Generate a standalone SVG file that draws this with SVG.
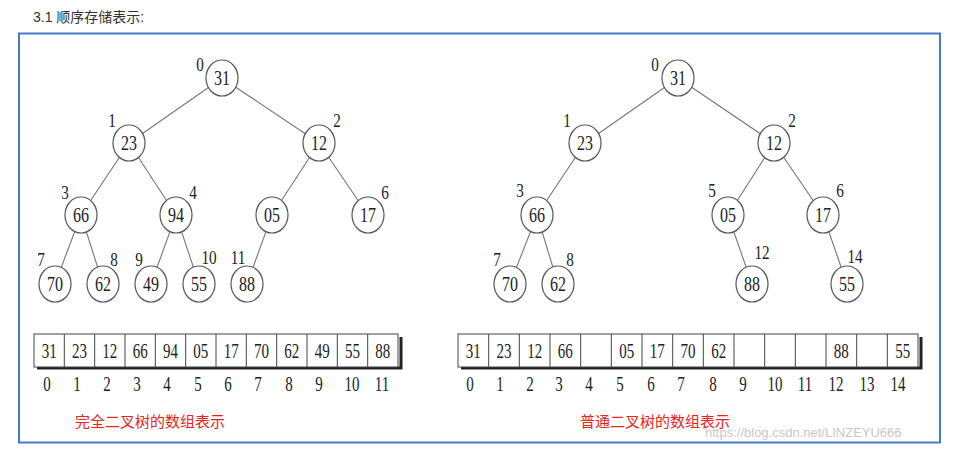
<svg xmlns="http://www.w3.org/2000/svg" width="962" height="453" viewBox="0 0 962 453">
<style>
.n{fill:#fff;stroke:#555;stroke-width:1.2}
.e{stroke:#777;stroke-width:1.1}
.t{font-family:"Liberation Serif",serif;font-size:20px;fill:#222;text-anchor:middle}
.l{font-family:"Liberation Serif",serif;font-size:19px;fill:#222;text-anchor:middle}
.c{fill:#fff;stroke:#444;stroke-width:1}
.cap{font-family:"Noto Sans CJK SC",sans-serif;font-size:15px;fill:#e8241c}
</style>
<rect width="962" height="453" fill="#fff"/>
<text x="33" y="22" font-family="Liberation Sans,'Noto Sans CJK SC',sans-serif" font-size="14" fill="#333">3.1 顺序存储表示:</text>
<rect x="19" y="33.5" width="921" height="409" fill="none" stroke="#4a78c8" stroke-width="2"/>
<g id="connectors">
<g class="e">
<line x1="222" y1="78" x2="129" y2="143"/><line x1="222" y1="78" x2="319" y2="143"/>
<line x1="129" y1="143" x2="81" y2="215"/><line x1="129" y1="143" x2="176" y2="215"/>
<line x1="319" y1="143" x2="272" y2="215"/><line x1="319" y1="143" x2="368" y2="215"/>
<line x1="81" y1="215" x2="55" y2="284"/><line x1="81" y1="215" x2="103" y2="284"/>
<line x1="176" y1="215" x2="151" y2="284"/><line x1="176" y1="215" x2="199" y2="284"/>
<line x1="272" y1="215" x2="247" y2="284"/>
<line x1="678" y1="78" x2="585" y2="143"/><line x1="678" y1="78" x2="774" y2="143"/>
<line x1="585" y1="143" x2="537" y2="215"/>
<line x1="774" y1="143" x2="728" y2="215"/><line x1="774" y1="143" x2="823" y2="215"/>
<line x1="537" y1="215" x2="510" y2="284"/><line x1="537" y1="215" x2="558" y2="284"/>
<line x1="728" y1="215" x2="752" y2="284"/><line x1="823" y1="215" x2="847" y2="284"/>
</g>
</g>
<defs>
<g id="lab"/>
</defs>
<g id="nodesL">
<g id="L0"><ellipse class="n" cx="222" cy="78" rx="16" ry="18"/><text class="t" transform="translate(222,85) scale(0.8,1)">31</text><text class="l" transform="translate(200,71) scale(0.8,1)">0</text></g>
<g id="L1"><ellipse class="n" cx="129" cy="143" rx="16" ry="18"/><text class="t" transform="translate(129,150) scale(0.8,1)">23</text><text class="l" transform="translate(112,127) scale(0.8,1)">1</text></g>
<g id="L2"><ellipse class="n" cx="319" cy="143" rx="16" ry="18"/><text class="t" transform="translate(319,150) scale(0.8,1)">12</text><text class="l" transform="translate(337,127) scale(0.8,1)">2</text></g>
<g id="L3"><ellipse class="n" cx="81" cy="215" rx="16" ry="18"/><text class="t" transform="translate(81,222) scale(0.8,1)">66</text><text class="l" transform="translate(65,199) scale(0.8,1)">3</text></g>
<g id="L4"><ellipse class="n" cx="176" cy="215" rx="16" ry="18"/><text class="t" transform="translate(176,222) scale(0.8,1)">94</text><text class="l" transform="translate(193,199) scale(0.8,1)">4</text></g>
<g id="L5"><ellipse class="n" cx="272" cy="215" rx="16" ry="18"/><text class="t" transform="translate(272,222) scale(0.8,1)">05</text></g>
<g id="L6"><ellipse class="n" cx="368" cy="215" rx="16" ry="18"/><text class="t" transform="translate(368,222) scale(0.8,1)">17</text><text class="l" transform="translate(385,199) scale(0.8,1)">6</text></g>
<g id="L7"><ellipse class="n" cx="55" cy="284" rx="16" ry="18"/><text class="t" transform="translate(55,291) scale(0.8,1)">70</text><text class="l" transform="translate(41,266) scale(0.8,1)">7</text></g>
<g id="L8"><ellipse class="n" cx="103" cy="284" rx="16" ry="18"/><text class="t" transform="translate(103,291) scale(0.8,1)">62</text><text class="l" transform="translate(114,266) scale(0.8,1)">8</text></g>
<g id="L9"><ellipse class="n" cx="151" cy="284" rx="16" ry="18"/><text class="t" transform="translate(151,291) scale(0.8,1)">49</text><text class="l" transform="translate(139,266) scale(0.8,1)">9</text></g>
<g id="L10"><ellipse class="n" cx="199" cy="284" rx="16" ry="18"/><text class="t" transform="translate(199,291) scale(0.8,1)">55</text><text class="l" transform="translate(209,264) scale(0.8,1)">10</text></g>
<g id="L11"><ellipse class="n" cx="247" cy="284" rx="16" ry="18"/><text class="t" transform="translate(247,291) scale(0.8,1)">88</text><text class="l" transform="translate(238,264) scale(0.8,1)">11</text></g>
</g>
<g id="nodesR">
<g id="R0"><ellipse class="n" cx="678" cy="78" rx="16" ry="18"/><text class="t" transform="translate(678,85) scale(0.8,1)">31</text><text class="l" transform="translate(655,71) scale(0.8,1)">0</text></g>
<g id="R1"><ellipse class="n" cx="585" cy="143" rx="16" ry="18"/><text class="t" transform="translate(585,150) scale(0.8,1)">23</text><text class="l" transform="translate(567,127) scale(0.8,1)">1</text></g>
<g id="R2"><ellipse class="n" cx="774" cy="143" rx="16" ry="18"/><text class="t" transform="translate(774,150) scale(0.8,1)">12</text><text class="l" transform="translate(792,127) scale(0.8,1)">2</text></g>
<g id="R3"><ellipse class="n" cx="537" cy="215" rx="16" ry="18"/><text class="t" transform="translate(537,222) scale(0.8,1)">66</text><text class="l" transform="translate(520,197) scale(0.8,1)">3</text></g>
<g id="R5"><ellipse class="n" cx="728" cy="215" rx="16" ry="18"/><text class="t" transform="translate(728,222) scale(0.8,1)">05</text><text class="l" transform="translate(712,197) scale(0.8,1)">5</text></g>
<g id="R6"><ellipse class="n" cx="823" cy="215" rx="16" ry="18"/><text class="t" transform="translate(823,222) scale(0.8,1)">17</text><text class="l" transform="translate(840,197) scale(0.8,1)">6</text></g>
<g id="R7"><ellipse class="n" cx="510" cy="284" rx="16" ry="18"/><text class="t" transform="translate(510,291) scale(0.8,1)">70</text><text class="l" transform="translate(497,266) scale(0.8,1)">7</text></g>
<g id="R8"><ellipse class="n" cx="558" cy="284" rx="16" ry="18"/><text class="t" transform="translate(558,291) scale(0.8,1)">62</text><text class="l" transform="translate(570,266) scale(0.8,1)">8</text></g>
<g id="R12"><ellipse class="n" cx="752" cy="284" rx="16" ry="18"/><text class="t" transform="translate(752,291) scale(0.8,1)">88</text><text class="l" transform="translate(762,259) scale(0.8,1)">12</text></g>
<g id="R14"><ellipse class="n" cx="847" cy="284" rx="16" ry="18"/><text class="t" transform="translate(847,291) scale(0.8,1)">55</text><text class="l" transform="translate(855,263) scale(0.8,1)">14</text></g>
</g>
<g id="arrayL">
<path d="M37 368 H401 V337" fill="none" stroke="#222" stroke-width="3"/>
<rect class="c" x="34" y="334" width="364" height="33"/>
<g stroke="#444"><line x1="64.3" y1="334" x2="64.3" y2="367"/><line x1="94.7" y1="334" x2="94.7" y2="367"/><line x1="125" y1="334" x2="125" y2="367"/><line x1="155.3" y1="334" x2="155.3" y2="367"/><line x1="185.7" y1="334" x2="185.7" y2="367"/><line x1="216" y1="334" x2="216" y2="367"/><line x1="246.3" y1="334" x2="246.3" y2="367"/><line x1="276.7" y1="334" x2="276.7" y2="367"/><line x1="307" y1="334" x2="307" y2="367"/><line x1="337.3" y1="334" x2="337.3" y2="367"/><line x1="367.7" y1="334" x2="367.7" y2="367"/></g>
<g class="t">
<text transform="translate(49.2,358) scale(0.75,1)">31</text><text transform="translate(79.5,358) scale(0.75,1)">23</text><text transform="translate(109.8,358) scale(0.75,1)">12</text><text transform="translate(140.2,358) scale(0.75,1)">66</text><text transform="translate(170.5,358) scale(0.75,1)">94</text><text transform="translate(200.8,358) scale(0.75,1)">05</text><text transform="translate(231.2,358) scale(0.75,1)">17</text><text transform="translate(261.5,358) scale(0.75,1)">70</text><text transform="translate(291.8,358) scale(0.75,1)">62</text><text transform="translate(322.2,358) scale(0.75,1)">49</text><text transform="translate(352.5,358) scale(0.75,1)">55</text><text transform="translate(382.8,358) scale(0.75,1)">88</text>
</g>
<g class="t">
<text transform="translate(47,391) scale(0.75,1)">0</text><text transform="translate(77,391) scale(0.75,1)">1</text><text transform="translate(107,391) scale(0.75,1)">2</text><text transform="translate(137,391) scale(0.75,1)">3</text><text transform="translate(167,391) scale(0.75,1)">4</text><text transform="translate(198,391) scale(0.75,1)">5</text><text transform="translate(228,391) scale(0.75,1)">6</text><text transform="translate(258,391) scale(0.75,1)">7</text><text transform="translate(289,391) scale(0.75,1)">8</text><text transform="translate(319,391) scale(0.75,1)">9</text><text transform="translate(352,391) scale(0.75,1)">10</text><text transform="translate(382,391) scale(0.75,1)">11</text>
</g>
</g>
<g id="arrayR">
<path d="M461 368 H921 V337" fill="none" stroke="#222" stroke-width="3"/>
<rect class="c" x="458" y="334" width="460" height="33"/>
<g stroke="#444"><line x1="488.7" y1="334" x2="488.7" y2="367"/><line x1="519.3" y1="334" x2="519.3" y2="367"/><line x1="550" y1="334" x2="550" y2="367"/><line x1="580.7" y1="334" x2="580.7" y2="367"/><line x1="611.3" y1="334" x2="611.3" y2="367"/><line x1="642" y1="334" x2="642" y2="367"/><line x1="672.7" y1="334" x2="672.7" y2="367"/><line x1="703.3" y1="334" x2="703.3" y2="367"/><line x1="734" y1="334" x2="734" y2="367"/><line x1="764.7" y1="334" x2="764.7" y2="367"/><line x1="795.3" y1="334" x2="795.3" y2="367"/><line x1="826" y1="334" x2="826" y2="367"/><line x1="856.7" y1="334" x2="856.7" y2="367"/><line x1="887.3" y1="334" x2="887.3" y2="367"/></g>
<g class="t">
<text transform="translate(473.3,358) scale(0.75,1)">31</text><text transform="translate(504,358) scale(0.75,1)">23</text><text transform="translate(534.7,358) scale(0.75,1)">12</text><text transform="translate(565.3,358) scale(0.75,1)">66</text><text transform="translate(626.7,358) scale(0.75,1)">05</text><text transform="translate(657.3,358) scale(0.75,1)">17</text><text transform="translate(688,358) scale(0.75,1)">70</text><text transform="translate(718.7,358) scale(0.75,1)">62</text><text transform="translate(841.3,358) scale(0.75,1)">88</text><text transform="translate(902.7,358) scale(0.75,1)">55</text>
</g>
<g class="t">
<text transform="translate(470,391) scale(0.75,1)">0</text><text transform="translate(500,391) scale(0.75,1)">1</text><text transform="translate(530,391) scale(0.75,1)">2</text><text transform="translate(559,391) scale(0.75,1)">3</text><text transform="translate(589,391) scale(0.75,1)">4</text><text transform="translate(620,391) scale(0.75,1)">5</text><text transform="translate(651,391) scale(0.75,1)">6</text><text transform="translate(681,391) scale(0.75,1)">7</text><text transform="translate(713,391) scale(0.75,1)">8</text><text transform="translate(743,391) scale(0.75,1)">9</text><text transform="translate(775,391) scale(0.75,1)">10</text><text transform="translate(805,391) scale(0.75,1)">11</text><text transform="translate(836,391) scale(0.75,1)">12</text><text transform="translate(867,391) scale(0.75,1)">13</text><text transform="translate(898,391) scale(0.75,1)">14</text>
</g>
</g>
<text class="cap" x="75" y="427">完全二叉树的数组表示</text>
<text class="cap" x="580" y="427">普通二叉树的数组表示</text>
<text x="705" y="437" font-family="Liberation Sans,sans-serif" font-size="13" fill="#c8c8c8">https://blog.csdn.net/LINZEYU666</text>
</svg>
